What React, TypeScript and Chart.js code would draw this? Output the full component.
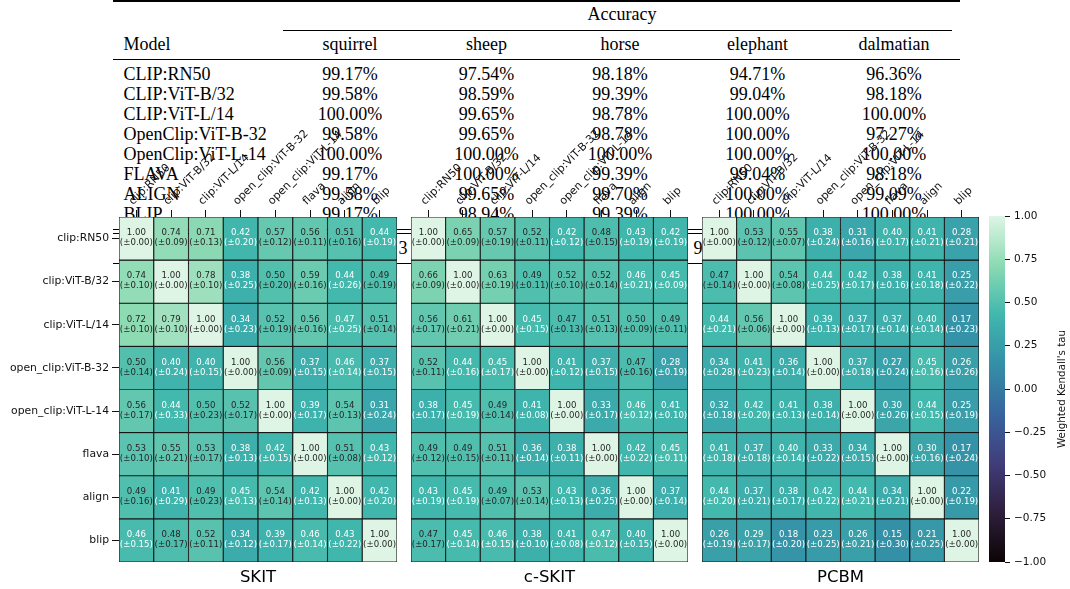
import React, { useEffect, useRef } from 'react';
import { Chart, registerables } from 'chart.js';

Chart.register(...registerables);

const W = 1070;
const H = 589;

// ---------- data ----------
const MODELS = ['clip:RN50', 'clip:ViT-B/32', 'clip:ViT-L/14', 'open_clip:ViT-B-32', 'open_clip:ViT-L-14', 'flava', 'align', 'blip'];

const SKIT_TAU = [
  [1.0, 0.74, 0.71, 0.42, 0.57, 0.56, 0.51, 0.44],
  [0.74, 1.0, 0.78, 0.38, 0.5, 0.59, 0.44, 0.49],
  [0.72, 0.79, 1.0, 0.34, 0.52, 0.56, 0.468, 0.51],
  [0.5, 0.4, 0.4, 1.0, 0.56, 0.37, 0.46, 0.37],
  [0.56, 0.44, 0.5, 0.52, 1.0, 0.39, 0.54, 0.31],
  [0.53, 0.55, 0.53, 0.38, 0.42, 1.0, 0.51, 0.43],
  [0.49, 0.41, 0.49, 0.45, 0.54, 0.42, 1.0, 0.42],
  [0.46, 0.48, 0.52, 0.34, 0.39, 0.46, 0.43, 1.0],
];
const SKIT_STD = [
  [0.0, 0.09, 0.13, 0.2, 0.12, 0.11, 0.16, 0.19],
  [0.1, 0.0, 0.1, 0.25, 0.2, 0.16, 0.26, 0.19],
  [0.1, 0.1, 0.0, 0.23, 0.19, 0.16, 0.25, 0.14],
  [0.14, 0.24, 0.15, 0.0, 0.09, 0.15, 0.14, 0.15],
  [0.17, 0.33, 0.23, 0.17, 0.0, 0.17, 0.13, 0.24],
  [0.1, 0.21, 0.17, 0.13, 0.15, 0.0, 0.08, 0.12],
  [0.16, 0.29, 0.23, 0.13, 0.14, 0.13, 0.0, 0.2],
  [0.15, 0.17, 0.11, 0.12, 0.17, 0.14, 0.22, 0.0],
];

const CSKIT_TAU = [
  [1.0, 0.65, 0.57, 0.52, 0.42, 0.48, 0.43, 0.42],
  [0.66, 1.0, 0.63, 0.49, 0.52, 0.52, 0.46, 0.45],
  [0.56, 0.61, 1.0, 0.45, 0.472, 0.51, 0.5, 0.49],
  [0.52, 0.44, 0.45, 1.0, 0.41, 0.37, 0.472, 0.28],
  [0.38, 0.45, 0.49, 0.41, 1.0, 0.33, 0.46, 0.41],
  [0.49, 0.49, 0.51, 0.36, 0.38, 1.0, 0.42, 0.45],
  [0.43, 0.45, 0.49, 0.53, 0.43, 0.36, 1.0, 0.37],
  [0.472, 0.45, 0.46, 0.38, 0.41, 0.468, 0.4, 1.0],
];
const CSKIT_STD = [
  [0.0, 0.09, 0.19, 0.11, 0.12, 0.15, 0.19, 0.19],
  [0.09, 0.0, 0.19, 0.11, 0.1, 0.14, 0.21, 0.09],
  [0.17, 0.21, 0.0, 0.15, 0.13, 0.13, 0.09, 0.11],
  [0.11, 0.16, 0.17, 0.0, 0.12, 0.15, 0.16, 0.19],
  [0.17, 0.19, 0.14, 0.08, 0.0, 0.17, 0.12, 0.1],
  [0.12, 0.15, 0.11, 0.14, 0.11, 0.0, 0.22, 0.11],
  [0.19, 0.19, 0.07, 0.14, 0.13, 0.25, 0.0, 0.14],
  [0.17, 0.14, 0.15, 0.1, 0.08, 0.12, 0.15, 0.0],
];

const PCBM_TAU = [
  [1.0, 0.53, 0.55, 0.38, 0.31, 0.4, 0.41, 0.28],
  [0.472, 1.0, 0.54, 0.44, 0.42, 0.38, 0.41, 0.25],
  [0.44, 0.56, 1.0, 0.39, 0.37, 0.37, 0.4, 0.17],
  [0.34, 0.41, 0.36, 1.0, 0.37, 0.27, 0.45, 0.26],
  [0.32, 0.42, 0.41, 0.38, 1.0, 0.3, 0.44, 0.25],
  [0.41, 0.37, 0.4, 0.33, 0.34, 1.0, 0.3, 0.17],
  [0.44, 0.37, 0.38, 0.42, 0.44, 0.34, 1.0, 0.22],
  [0.26, 0.29, 0.18, 0.23, 0.26, 0.15, 0.21, 1.0],
];
const PCBM_STD = [
  [0.0, 0.12, 0.07, 0.24, 0.16, 0.17, 0.21, 0.21],
  [0.14, 0.0, 0.08, 0.25, 0.17, 0.16, 0.18, 0.22],
  [0.21, 0.06, 0.0, 0.13, 0.17, 0.14, 0.14, 0.23],
  [0.28, 0.23, 0.14, 0.0, 0.18, 0.24, 0.16, 0.26],
  [0.18, 0.2, 0.13, 0.14, 0.0, 0.26, 0.15, 0.19],
  [0.18, 0.18, 0.14, 0.22, 0.15, 0.0, 0.16, 0.24],
  [0.2, 0.21, 0.17, 0.22, 0.21, 0.21, 0.0, 0.19],
  [0.19, 0.17, 0.2, 0.25, 0.21, 0.3, 0.25, 0.0],
];

const TABLE_MODELS = ['CLIP:RN50', 'CLIP:ViT-B/32', 'CLIP:ViT-L/14', 'OpenClip:ViT-B-32', 'OpenClip:ViT-L-14', 'FLAVA', 'ALIGN', 'BLIP'];
const TABLE_CLASSES = ['squirrel', 'sheep', 'horse', 'elephant', 'dalmatian'];
const ACC_SQUIRREL = [99.17, 99.58, 100.0, 99.58, 100.0, 99.17, 99.58, 99.17];
const ACC_SHEEP = [97.54, 98.59, 99.65, 99.65, 100.0, 100.0, 99.65, 98.94];
const ACC_HORSE = [98.18, 99.39, 98.78, 98.78, 100.0, 99.39, 99.7, 99.39];
const ACC_ELEPHANT = [94.71, 99.04, 100.0, 100.0, 100.0, 99.04, 100.0, 100.0];
const ACC_DALMATIAN = [96.36, 98.18, 100.0, 97.27, 100.0, 98.18, 99.09, 100.0];
const ACC_COLUMNS = [ACC_SQUIRREL, ACC_SHEEP, ACC_HORSE, ACC_ELEPHANT, ACC_DALMATIAN];

const CBAR_MIN = -1;
const CBAR_MAX = 1;
const CBAR_STEP = 0.25;

// ---------- colormap (seaborn "mako") ----------
const MAKO: [number, number, number, number][] = [
  [0, 11, 4, 5],
  [1 / 7, 46, 30, 60],
  [2 / 7, 65, 61, 123],
  [3 / 7, 55, 101, 158],
  [4 / 7, 52, 143, 167],
  [5 / 7, 64, 183, 173],
  [6 / 7, 139, 218, 178],
  [1, 222, 245, 229],
];
function mako(t: number): string {
  const u = Math.max(0, Math.min(1, t));
  for (let k = 1; k < MAKO.length; k++) {
    const a = MAKO[k - 1];
    const b = MAKO[k];
    if (u <= b[0]) {
      const f = (u - a[0]) / (b[0] - a[0]);
      const r = Math.round(a[1] + f * (b[1] - a[1]));
      const g = Math.round(a[2] + f * (b[2] - a[2]));
      const bl = Math.round(a[3] + f * (b[3] - a[3]));
      return `rgb(${r},${g},${bl})`;
    }
  }
  return 'rgb(222,245,229)';
}
const norm = (v: number) => (v - CBAR_MIN) / (CBAR_MAX - CBAR_MIN);

const SANS = '"DejaVu Sans", sans-serif';

type Area = { left: number; right: number; top: number; bottom: number };

function Heatmap({ title, tau, std, area, showY }: { title: string; tau: number[][]; std: number[][]; area: Area; showY: boolean }) {
  const ref = useRef<HTMLCanvasElement>(null);
  useEffect(() => {
    const XH = 90;
    const YW = showY ? area.left : 0;
    const cellText = {
      id: 'cellText',
      afterDatasetsDraw(chart: any) {
        const ctx = chart.ctx;
        ctx.save();
        ctx.textAlign = 'center';
        ctx.textBaseline = 'middle';
        ctx.font = `8.6px ${SANS}`;
        chart.data.datasets.forEach((_d: any, i: number) => {
          const meta = chart.getDatasetMeta(i);
          meta.data.forEach((bar: any, j: number) => {
            const p = bar.getProps(['x', 'y', 'base'], true);
            const cy = (p.y + p.base) / 2;
            const v = tau[i][j];
            ctx.fillStyle = v >= 0.47 ? '#262626' : '#ffffff';
            ctx.fillText(v.toFixed(2), p.x, cy - 5.5);
            ctx.fillText(`(\u00b1${std[i][j].toFixed(2)})`, p.x, cy + 4.5);
          });
        });
        const a = chart.chartArea;
        ctx.fillStyle = '#000';
        ctx.font = `16.5px ${SANS}`;
        ctx.fillText(title, (a.left + a.right) / 2, 578);
        ctx.restore();
      },
    };
    const chart = new Chart(ref.current as HTMLCanvasElement, {
      type: 'bar',
      data: {
        labels: MODELS,
        datasets: tau.map((row, i) => ({
          label: MODELS[i],
          data: row.map(() => [i, i + 1]),
          backgroundColor: row.map((v) => mako(norm(v))),
          borderColor: '#161616',
          borderWidth: 0.9,
          borderSkipped: false,
          grouped: false,
          categoryPercentage: 1,
          barPercentage: 1,
        })) as any,
      },
      options: {
        responsive: false,
        animation: false,
        maintainAspectRatio: false,
        events: [],
        layout: {
          padding: {
            left: area.left - YW,
            right: W - area.right,
            top: area.top - XH,
            bottom: H - area.bottom,
          },
        },
        plugins: { legend: { display: false }, tooltip: { enabled: false }, title: { display: false } },
        scales: {
          x: {
            type: 'category',
            position: 'top',
            offset: true,
            grid: { offset: false, drawOnChartArea: false, tickLength: 7, color: '#111', lineWidth: 1 },
            border: { display: false },
            ticks: { minRotation: 45, maxRotation: 45, autoSkip: false, padding: 2, labelOffset: 4, color: '#111', font: { family: SANS, size: 11 } },
            afterFit: (s: any) => {
              s.height = XH;
            },
          },
          y: {
            type: 'linear',
            display: showY,
            min: 0,
            max: MODELS.length,
            reverse: true,
            grid: { drawOnChartArea: false, tickLength: 7, color: '#111', lineWidth: 1 },
            border: { display: false },
            afterBuildTicks: (s: any) => {
              s.ticks = MODELS.map((_m, i) => ({ value: i + 0.5 }));
            },
            ticks: {
              autoSkip: false,
              padding: 3,
              color: '#111',
              font: { family: SANS, size: 10.8 },
              callback: (_v: any, idx: number) => MODELS[idx],
            },
            afterFit: (s: any) => {
              s.width = YW;
            },
          },
        },
      } as any,
      plugins: [cellText],
    });
    return () => chart.destroy();
  }, []);
  return <canvas ref={ref} width={W} height={H} style={{ position: 'absolute', left: 0, top: 0, width: W, height: H }} />;
}

function Colorbar() {
  const ref = useRef<HTMLCanvasElement>(null);
  useEffect(() => {
    const area = { left: 989, right: 1005, top: 216, bottom: 562 };
    const AW = 60;
    const label = {
      id: 'cbLabel',
      afterDraw(chart: any) {
        const ctx = chart.ctx;
        ctx.save();
        ctx.translate(1062, 389);
        ctx.rotate(-Math.PI / 2);
        ctx.textAlign = 'center';
        ctx.textBaseline = 'middle';
        ctx.fillStyle = '#111';
        ctx.font = `10.3px ${SANS}`;
        ctx.fillText("Weighted Kendall's tau", 0, 0);
        ctx.restore();
      },
    };
    const chart = new Chart(ref.current as HTMLCanvasElement, {
      type: 'bar',
      data: {
        labels: ['tau'],
        datasets: [
          {
            data: [[CBAR_MIN, CBAR_MAX]],
            backgroundColor: (c: any) => {
              const ch = c.chart;
              const a = ch.chartArea;
              if (!a) return 'rgba(0,0,0,0)';
              const g = ch.ctx.createLinearGradient(0, a.bottom, 0, a.top);
              for (let k = 0; k <= 28; k++) g.addColorStop(k / 28, mako(k / 28));
              return g;
            },
            borderWidth: 0,
            categoryPercentage: 1,
            barPercentage: 1,
          },
        ] as any,
      },
      options: {
        responsive: false,
        animation: false,
        maintainAspectRatio: false,
        events: [],
        layout: { padding: { left: area.left, right: W - area.right - AW, top: area.top, bottom: H - area.bottom } },
        plugins: { legend: { display: false }, tooltip: { enabled: false } },
        scales: {
          x: { display: false },
          y: {
            type: 'linear',
            position: 'right',
            min: CBAR_MIN,
            max: CBAR_MAX,
            grid: { drawOnChartArea: false, tickLength: 5, color: '#111' },
            border: { display: false },
            ticks: {
              stepSize: CBAR_STEP,
              padding: 4,
              color: '#111',
              font: { family: SANS, size: 10.5 },
              callback: (v: any) => (Number(v) < 0 ? '\u2212' : '') + Math.abs(Number(v)).toFixed(2),
            },
            afterFit: (s: any) => {
              s.width = AW;
            },
          },
        },
      } as any,
      plugins: [label],
    });
    return () => chart.destroy();
  }, []);
  return <canvas ref={ref} width={W} height={H} style={{ position: 'absolute', left: 0, top: 0, width: W, height: H }} />;
}

const SERIF = '"Liberation Serif", "Times New Roman", serif';

function Txt({ x, y, center, children }: { x: number; y: number; center?: boolean; children: React.ReactNode }) {
  return (
    <div
      style={{
        position: 'absolute',
        left: x,
        top: y,
        transform: center ? 'translate(-50%, -50%)' : 'translate(0, -50%)',
        whiteSpace: 'nowrap',
        lineHeight: 1,
        fontFamily: SERIF,
        fontSize: 18,
        color: '#000',
      }}
    >
      {children}
    </div>
  );
}

function Rule({ x, y, w, h }: { x: number; y: number; w: number; h: number }) {
  return <div style={{ position: 'absolute', left: x, top: y, width: w, height: h, background: '#000' }} />;
}

function Table() {
  const colX = [350, 486.5, 620, 757.5, 894];
  return (
    <div style={{ position: 'absolute', left: 0, top: 0, width: W, height: H }}>
      <Rule x={113} y={0} w={847} h={1.5} />
      <Txt x={622} y={14} center>
        Accuracy
      </Txt>
      <Rule x={283} y={29.5} w={669} h={1} />
      <Txt x={123.5} y={44}>
        Model
      </Txt>
      {TABLE_CLASSES.map((c, k) => (
        <Txt key={c} x={colX[k]} y={44} center>
          {c}
        </Txt>
      ))}
      <Rule x={113} y={58.5} w={847} h={1} />
      {TABLE_MODELS.map((m, i) => (
        <React.Fragment key={m}>
          <Txt x={123.5} y={74 + 20 * i}>
            {m}
          </Txt>
          {ACC_COLUMNS.map((col, k) => (
            <Txt key={k} x={colX[k]} y={74 + 20 * i} center>
              {col[i].toFixed(2) + '%'}
            </Txt>
          ))}
        </React.Fragment>
      ))}
      <Rule x={113} y={228.8} w={847} h={1.2} />
      <Rule x={113} y={232.5} w={847} h={1} />
      <Txt x={398.5} y={248}>
        3
      </Txt>
      <Txt x={693.5} y={248}>
        9
      </Txt>
      <Rule x={113} y={262.5} w={847} h={1} />
    </div>
  );
}

export default function App() {
  return (
    <div style={{ position: 'absolute', left: 0, top: 0, width: W, height: H, background: '#fff', overflow: 'hidden' }}>
      <Table />
      <Heatmap title="SKIT" tau={SKIT_TAU} std={SKIT_STD} area={{ left: 119, right: 397, top: 217, bottom: 562 }} showY={true} />
      <Heatmap title="c-SKIT" tau={CSKIT_TAU} std={CSKIT_STD} area={{ left: 411, right: 688, top: 217, bottom: 562 }} showY={false} />
      <Heatmap title="PCBM" tau={PCBM_TAU} std={PCBM_STD} area={{ left: 702, right: 979, top: 217, bottom: 562 }} showY={false} />
      <Colorbar />
    </div>
  );
}
